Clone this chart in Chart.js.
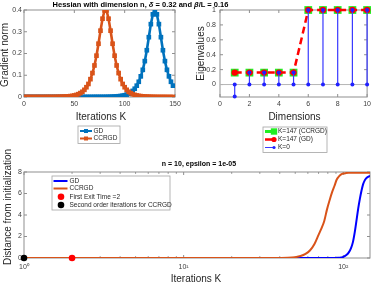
<!DOCTYPE html>
<html>
<head>
<meta charset="utf-8">
<script src="https://cdn.jsdelivr.net/npm/chart.js@4.4.1/dist/chart.umd.min.js"></script>
<style>
  html, body { margin: 0; padding: 0; background: #fff; }
  body { width: 374px; height: 284px; position: relative; overflow: hidden; }
  canvas { position: absolute; }
  #title { position: absolute; left: 0; top: 0; width: 281px; text-align: center;
           font: bold 7.5px "Liberation Sans", Arial, sans-serif; line-height: 9px; color: #000; white-space: nowrap; }
</style>
</head>
<body>
<canvas id="gradChart" width="187" height="150" style="left:0;top:0"></canvas>
<canvas id="distChart" width="374" height="141" style="left:0;top:143px"></canvas>
<canvas id="eigChart" width="187" height="160" style="left:187px;top:0"></canvas>
<div id="title">Hessian with dimension n, <i>δ</i> = 0.32 and <i>β</i>/L = 0.16</div>

<script>
const FONT = '"Liberation Sans", Arial, sans-serif';
const AXIS_COLOR = '#8f8f8f';
const TEXT_COLOR = '#262626';
const BLUE = '#0072BD';
const ORANGE = '#D95319';

// top left: gradient norm vs iterations
const iterK = [0, 2, 4, 6, 8, 10, 12, 14, 16, 18, 20, 22, 24, 26, 28, 30, 32, 34, 36, 38,
  40, 42, 44, 46, 48, 50, 52, 54, 56, 58, 60, 62, 64, 66, 68, 70, 72, 74, 76, 78,
  80, 82, 84, 86, 88, 90, 92, 94, 96, 98, 100, 102, 104, 106, 108, 110, 112, 114, 116, 118,
  120, 122, 124, 126, 128, 130, 132, 134, 136, 138, 140, 142, 144, 146, 148];
const gdNorm = [0.0001, 0.0001, 0.0001, 0.0001, 0.0001, 0.0001, 0.0001, 0.0001, 0.0001, 0.0001,
  0.0001, 0.0001, 0.0001, 0.0001, 0.0001, 0.0001, 0.0001, 0.0001, 0.0001, 0.0001,
  0.0001, 0.0001, 0.0001, 0.0001, 0.0001, 0.0003, 0.0003, 0.0003, 0.0003, 0.0003,
  0.0003, 0.0003, 0.0003, 0.0003, 0.0003, 0.0005, 0.0005, 0.0005, 0.0005, 0.0005,
  0.0005, 0.0007, 0.0009, 0.0011, 0.0015, 0.002, 0.0026, 0.0035, 0.0045, 0.006,
  0.008, 0.011, 0.015, 0.02, 0.028, 0.038, 0.052, 0.07, 0.095, 0.125,
  0.165, 0.215, 0.275, 0.335, 0.38, 0.4, 0.38, 0.335, 0.275, 0.215,
  0.165, 0.125, 0.095, 0.07, 0.052];
const ccrgdNorm = [0.0001, 0.0001, 0.0001, 0.0001, 0.0001, 0.0001, 0.0001, 0.0001, 0.0001, 0.0001,
  0.0001, 0.0003, 0.0003, 0.0003, 0.0003, 0.0003, 0.0006, 0.0006, 0.001, 0.0013,
  0.0017, 0.0022, 0.003, 0.004, 0.005, 0.007, 0.0095, 0.013, 0.018, 0.024,
  0.033, 0.045, 0.06, 0.082, 0.11, 0.145, 0.19, 0.245, 0.305, 0.36,
  0.398, 0.398, 0.36, 0.305, 0.245, 0.19, 0.145, 0.11, 0.082, 0.06,
  0.045, 0.033, 0.024, 0.018, 0.013, 0.0095, 0.007, 0.005, 0.004, 0.003,
  0.0022, 0.0017, 0.0013, 0.001, 0.0006, 0.0006, 0.0003, 0.0003, 0.0003, 0.0003,
  0.0003, 0.0001, 0.0001, 0.0001, 0.0001];
const gradXTicks = [0, 50, 100, 150];
const gradYTicks = [0, 0.1, 0.2, 0.3, 0.4];

// top right: eigenvalues per dimension
const dims = [1, 2, 3, 4, 5, 6, 7, 8, 9, 10];
const eigCCRGD = [0.16, 0.16, 0.16, 0.16, 0.16, 1, 1, 1, 1, 1];
const eigGD = [0.16, 0.16, 0.16, 0.16, 0.16, 1, 1, 1, 1, 1];
const eigK0 = [-0.16, 0.16, 0.16, 0.16, 0.16, 1, 1, 1, 1, 1];
const eigXTicks = [0, 2, 4, 6, 8, 10];
const eigYTicks = [0, 0.2, 0.4, 0.6, 0.8, 1];

// bottom: distance from initialization (log x)
const iterC = [1, 2, 5, 10, 20, 30, 40, 45, 50, 54, 58, 62, 66, 70, 73, 76, 79, 82, 85, 88,
  91, 94, 97, 100, 104, 108, 112, 115, 118, 121, 124, 127, 130, 133, 136, 139, 142, 145, 147];
const gdDist = [0, 0, 0, 0, 0, 0, 0, 0, 0, 0, 0, 0, 0, 0, 0, 0, 0, 0, 0, 0,
  0.01, 0.02, 0.05, 0.1, 0.25, 0.5, 0.95, 1.5, 2.4, 3.5, 4.6, 5.5, 6.25, 6.85, 7.2, 7.4, 7.52, 7.6, 7.65];
const ccrgdDist = [0, 0, 0, 0, 0, 0, 0.005, 0.02, 0.08, 0.18, 0.38, 0.72, 1.3, 2.15, 2.75, 3.45, 4.5, 5.35, 6.1, 6.7,
  7.3, 7.6, 7.78, 7.86, 7.9, 7.92, 7.93, 7.93, 7.93, 7.93, 7.93, 7.93, 7.93, 7.93, 7.93, 7.93, 7.93, 7.93, 7.93];
const exitK = [2];
const exitDist = [0];
const secondK = [1];
const secondDist = [0];
const distXTicks = [1, 10, 100];
const distXLabels = ['10\u2070', '10\u00B9', '10\u00B2'];
const distMinorTicks = [2, 3, 4, 5, 6, 7, 8, 9, 20, 30, 40, 50, 60, 70, 80, 90];
const distYTicks = [0, 2, 4, 6, 8];

Chart.defaults.font.family = FONT;

function pts(xs, ys) {
  return xs.map((x, i) => ({ x, y: ys[i] }));
}

// stem: vertical segment from 0 to value, gap between stems
function stemPts(xs, ys) {
  const out = [];
  xs.forEach((x, i) => { out.push({ x, y: 0 }, { x, y: ys[i] }, { x, y: null }); });
  return out;
}

function line(ctx, x1, y1, x2, y2) {
  ctx.beginPath(); ctx.moveTo(x1, y1); ctx.lineTo(x2, y2); ctx.stroke();
}

function label(ctx, str, x, y, size, rotate, bold) {
  ctx.save();
  ctx.font = (bold ? 'bold ' : '') + size + 'px ' + FONT;
  ctx.fillStyle = bold ? '#000' : TEXT_COLOR;
  ctx.textAlign = 'center';
  ctx.textBaseline = 'middle';
  ctx.translate(x, y);
  if (rotate) ctx.rotate(-Math.PI / 2);
  ctx.fillText(str, 0, 0);
  ctx.restore();
}

// MATLAB style box with inward ticks
function frame(chart, xTicks, yTicks, minor) {
  const { ctx, chartArea: a, scales } = chart;
  ctx.save();
  ctx.strokeStyle = AXIS_COLOR;
  ctx.lineWidth = 1;
  ctx.strokeRect(a.left, a.top, a.right - a.left, a.bottom - a.top);
  xTicks.forEach(v => {
    const p = scales.x.getPixelForValue(v);
    line(ctx, p, a.bottom, p, a.bottom - 3);
    line(ctx, p, a.top, p, a.top + 3);
  });
  yTicks.forEach(v => {
    const p = scales.y.getPixelForValue(v);
    line(ctx, a.left, p, a.left + 3, p);
    line(ctx, a.right, p, a.right - 3, p);
  });
  (minor || []).forEach(v => {
    const p = scales.x.getPixelForValue(v);
    line(ctx, p, a.bottom, p, a.bottom - 1.8);
    line(ctx, p, a.top, p, a.top + 1.8);
  });
  ctx.restore();
}

function legendBox(ctx, x, y, w, h) {
  ctx.save();
  ctx.fillStyle = '#fff';
  ctx.fillRect(x, y, w, h);
  ctx.strokeStyle = '#a3a3a3';
  ctx.lineWidth = 0.8;
  ctx.strokeRect(x, y, w, h);
  ctx.restore();
}

function legendText(ctx, str, x, y) {
  ctx.save();
  ctx.font = '6.5px ' + FONT;
  ctx.fillStyle = TEXT_COLOR;
  ctx.textBaseline = 'middle';
  ctx.fillText(str, x, y);
  ctx.restore();
}

function sample(ctx, x1, x2, y, color, width, dash) {
  ctx.save();
  ctx.strokeStyle = color;
  ctx.lineWidth = width;
  if (dash) ctx.setLineDash(dash);
  line(ctx, x1, y, x2, y);
  ctx.restore();
}

function dot(ctx, x, y, r, color, square) {
  ctx.save();
  ctx.fillStyle = color;
  ctx.beginPath();
  if (square) ctx.rect(x - r, y - r, 2 * r, 2 * r);
  else ctx.arc(x, y, r, 0, Math.PI * 2);
  ctx.fill();
  ctx.restore();
}

function tickOpts(pad) {
  return { font: { size: 7 }, color: '#404040', padding: pad, maxRotation: 0, autoSkip: false };
}

function fixedTicks(list) {
  return scale => { scale.ticks = list.map(v => ({ value: v })); };
}

const noGrid = { display: false, drawTicks: false };
const noBorder = { display: false };

// ---------- top left ----------
const gradDecor = {
  id: 'gradDecor',
  beforeDatasetsDraw(chart) { frame(chart, gradXTicks, gradYTicks); },
  afterDraw(chart) {
    const ctx = chart.ctx;
    label(ctx, 'Gradient norm', 5.5, 55, 10, true);
    label(ctx, 'Iterations K', 101, 117, 10);
    legendBox(ctx, 78, 126, 42, 17.5);
    const ds = chart.data.datasets;
    sample(ctx, 80, 92, 131, BLUE, 2);
    dot(ctx, 86, 131, 2, BLUE, true);
    legendText(ctx, ds[0].label, 93.5, 131);
    sample(ctx, 80, 92, 138.5, ORANGE, 2);
    dot(ctx, 86, 138.5, 2, ORANGE, true);
    legendText(ctx, ds[1].label, 93.5, 138.5);
  }
};

new Chart(document.getElementById('gradChart'), {
  type: 'line',
  data: {
    datasets: [
      { label: 'GD', data: pts(iterK, gdNorm), borderColor: BLUE, backgroundColor: BLUE,
        borderWidth: 2.6, pointStyle: 'rect', pointRadius: 3.3, pointBorderWidth: 0, order: 2 },
      { label: 'CCRGD', data: pts(iterK, ccrgdNorm), borderColor: ORANGE, backgroundColor: ORANGE,
        borderWidth: 2.6, pointStyle: 'rect', pointRadius: 3.3, pointBorderWidth: 0, order: 1 }
    ]
  },
  options: {
    responsive: false, animation: false, devicePixelRatio: 1, events: [],
    layout: { padding: { top: 10, right: 12, left: 0, bottom: 0 } },
    plugins: { legend: { display: false }, tooltip: { enabled: false } },
    scales: {
      x: { type: 'linear', min: 0, max: 150, afterBuildTicks: fixedTicks(gradXTicks),
           ticks: tickOpts(3), grid: noGrid, border: noBorder,
           afterFit: s => { s.height = 53; } },
      y: { type: 'linear', min: 0, max: 0.4, afterBuildTicks: fixedTicks(gradYTicks),
           ticks: { ...tickOpts(2), callback: v => String(v) }, grid: noGrid, border: noBorder,
           afterFit: s => { s.width = 24; } }
    }
  },
  plugins: [gradDecor]
});

// ---------- top right ----------
const eigDecor = {
  id: 'eigDecor',
  beforeDatasetsDraw(chart) {
    frame(chart, eigXTicks, eigYTicks);
    const { ctx, chartArea: a, scales } = chart;
    ctx.save();
    ctx.strokeStyle = '#b5b5b5';
    ctx.lineWidth = 1;
    const p = scales.y.getPixelForValue(0);
    line(ctx, a.left, p, a.right, p);
    ctx.restore();
  },
  afterDraw(chart) {
    const ctx = chart.ctx;
    const ds = chart.data.datasets;
    label(ctx, 'Eigenvalues', 14, 53.5, 10, true);
    label(ctx, 'Dimensions', 107.5, 117, 10);
    legendBox(ctx, 76, 127, 64, 25.5);
    sample(ctx, 78, 87, 131.5, '#22ee22', 3);
    dot(ctx, 87, 131.5, 3.2, '#22ee22', true);
    legendText(ctx, ds[0].label, 91, 131.5);
    sample(ctx, 78, 87, 139.5, '#ff0000', 2.5);
    dot(ctx, 87, 139.5, 2.6, '#ff0000');
    legendText(ctx, ds[1].label, 91, 139.5);
    sample(ctx, 78, 87, 147.5, '#3a3aff', 1);
    dot(ctx, 87, 147.5, 1.6, '#2020ff');
    legendText(ctx, ds[2].label, 91, 147.5);
  }
};

new Chart(document.getElementById('eigChart'), {
  type: 'line',
  data: {
    datasets: [
      { label: 'K=147 (CCRGD)', data: pts(dims, eigCCRGD), showLine: false, pointStyle: 'rect',
        pointRadius: 5.5, backgroundColor: '#22ee22', pointBorderWidth: 0, order: 3, clip: 8 },
      { label: 'K=147 (GD)', data: pts(dims, eigGD), borderColor: '#ff0000', backgroundColor: '#ff0000',
        borderWidth: 2.5, borderDash: [7, 4], pointRadius: 3.2, pointBorderWidth: 0, order: 2, clip: 8 },
      { label: 'K=0', data: stemPts(dims, eigK0), borderColor: '#3a3aff', backgroundColor: '#2020ff',
        borderWidth: 1.2, pointRadius: 2, pointBorderWidth: 0, spanGaps: false, order: 1, clip: 8 }
    ]
  },
  options: {
    responsive: false, animation: false, devicePixelRatio: 1, events: [],
    layout: { padding: { top: 10, right: 5, left: 0, bottom: 0 } },
    plugins: { legend: { display: false }, tooltip: { enabled: false } },
    scales: {
      x: { type: 'linear', min: 0, max: 10, afterBuildTicks: fixedTicks(eigXTicks),
           ticks: tickOpts(3), grid: noGrid, border: noBorder,
           afterFit: s => { s.height = 63; } },
      y: { type: 'linear', min: -0.167, max: 1, afterBuildTicks: fixedTicks(eigYTicks),
           ticks: { ...tickOpts(4), callback: v => String(v) }, grid: noGrid, border: noBorder,
           afterFit: s => { s.width = 33; } }
    }
  },
  plugins: [eigDecor]
});

// ---------- bottom ----------
const distDecor = {
  id: 'distDecor',
  beforeDatasetsDraw(chart) { frame(chart, distXTicks, distYTicks, distMinorTicks); },
  afterDraw(chart) {
    const ctx = chart.ctx;
    const ds = chart.data.datasets;
    label(ctx, 'n = 10, epsilon = 1e-05', 199, 21, 7, false, true);
    label(ctx, 'Distance from initialization', 8, 64, 10, true);
    label(ctx, 'Iterations K', 196, 136, 10);
    legendBox(ctx, 52, 33, 118, 34);
    sample(ctx, 53.5, 67.5, 38, '#0000ff', 2);
    legendText(ctx, ds[0].label, 69.5, 38);
    sample(ctx, 53.5, 67.5, 45.5, ORANGE, 2);
    legendText(ctx, ds[1].label, 69.5, 45.5);
    dot(ctx, 61, 53.8, 3.3, '#ff0000');
    legendText(ctx, ds[2].label, 69.5, 53.8);
    dot(ctx, 61, 62, 3.3, '#000000');
    legendText(ctx, ds[3].label, 69.5, 62);
  }
};

new Chart(document.getElementById('distChart'), {
  type: 'line',
  data: {
    datasets: [
      { label: 'GD', data: pts(iterC, gdDist), borderColor: '#0000ff', borderWidth: 2,
        pointRadius: 0, cubicInterpolationMode: 'monotone', order: 4 },
      { label: 'CCRGD', data: pts(iterC, ccrgdDist), borderColor: ORANGE, borderWidth: 2,
        pointRadius: 0, cubicInterpolationMode: 'monotone', order: 3 },
      { label: 'First Exit Time =2', data: pts(exitK, exitDist), showLine: false,
        pointRadius: 3.3, backgroundColor: '#ff0000', pointBorderWidth: 0, order: 2, clip: 8 },
      { label: 'Second order iterations for CCRGD', data: pts(secondK, secondDist), showLine: false,
        pointRadius: 3.3, backgroundColor: '#000000', pointBorderWidth: 0, order: 1, clip: 8 }
    ]
  },
  options: {
    responsive: false, animation: false, devicePixelRatio: 1, events: [],
    layout: { padding: { top: 29, right: 3, left: 0, bottom: 0 } },
    plugins: { legend: { display: false }, tooltip: { enabled: false } },
    scales: {
      x: { type: 'logarithmic', min: 1, max: 147, afterBuildTicks: fixedTicks(distXTicks),
           ticks: { ...tickOpts(5), callback: (v, i) => distXLabels[i] }, grid: noGrid, border: noBorder,
           afterFit: s => { s.height = 26; } },
      y: { type: 'linear', min: 0, max: 8, afterBuildTicks: fixedTicks(distYTicks),
           ticks: { ...tickOpts(2), callback: v => String(v) }, grid: noGrid, border: noBorder,
           afterFit: s => { s.width = 24; } }
    }
  },
  plugins: [distDecor]
});
</script>
</body>
</html>
